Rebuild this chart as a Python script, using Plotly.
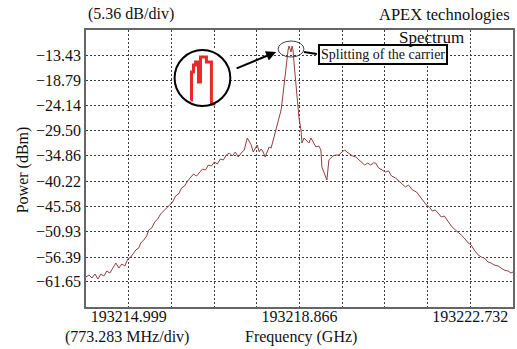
import plotly.graph_objects as go

# ---------------- data ----------------
freq_ghz = [
    193214.032, 193214.100, 193214.167, 193214.235, 193214.302, 193214.370, 193214.438, 193214.505,
    193214.573, 193214.640, 193214.708, 193214.776, 193214.843, 193214.911, 193214.978, 193215.046,
    193215.114, 193215.159, 193215.226, 193215.271, 193215.339, 193215.407, 193215.452, 193215.519,
    193215.587, 193215.655, 193215.722, 193215.790, 193215.857, 193215.925, 193215.993, 193216.060,
    193216.128, 193216.195, 193216.263, 193216.331, 193216.398, 193216.466, 193216.533, 193216.601,
    193216.669, 193216.736, 193216.804, 193216.871, 193216.939, 193217.007, 193217.074, 193217.142,
    193217.209, 193217.277, 193217.345, 193217.412, 193217.480, 193217.547, 193217.615, 193217.683,
    193217.728, 193217.773, 193217.818, 193217.863, 193217.908, 193217.953, 193217.998, 193218.043,
    193218.088, 193218.133, 193218.178, 193218.224, 193218.291, 193218.359, 193218.449, 193218.517,
    193218.562, 193218.607, 193218.629, 193218.652, 193218.674, 193218.697, 193218.719, 193218.742,
    193218.787, 193218.809, 193218.855, 193218.900, 193218.922, 193218.967, 193219.012, 193219.080,
    193219.125, 193219.170, 193219.238, 193219.305, 193219.350, 193219.373, 193219.418, 193219.463,
    193219.486, 193219.531, 193219.576, 193219.621, 193219.688, 193219.756, 193219.824, 193219.891,
    193219.936, 193220.004, 193220.071, 193220.139, 193220.207, 193220.274, 193220.342, 193220.409,
    193220.477, 193220.545, 193220.590, 193220.657, 193220.747, 193220.815, 193220.883, 193220.950,
    193221.040, 193221.108, 193221.198, 193221.266, 193221.333, 193221.424, 193221.514, 193221.581,
    193221.649, 193221.739, 193221.807, 193221.874, 193221.942, 193222.009, 193222.077, 193222.145,
    193222.235, 193222.302, 193222.370, 193222.460, 193222.528, 193222.595, 193222.685, 193222.753,
    193222.821, 193222.911, 193222.978, 193223.046, 193223.136, 193223.204, 193223.271, 193223.362,
    193223.429, 193223.497, 193223.587, 193223.654, 193223.700,
]
power_dbm = [
    -60.64, -60.22, -60.86, -60.01, -61.07, -60.01, -60.43, -59.37,
    -59.79, -58.73, -57.67, -58.73, -57.88, -58.30, -56.81, -56.39,
    -55.54, -54.90, -54.47, -53.41, -52.77, -51.92, -50.64, -50.22,
    -48.94, -48.30, -47.24, -46.60, -45.75, -45.32, -44.68, -43.40,
    -42.98, -41.70, -41.28, -40.21, -39.57, -38.72, -39.15, -38.30,
    -37.66, -37.87, -36.81, -37.02, -36.17, -36.59, -35.53, -35.74,
    -34.68, -34.25, -34.89, -34.04, -35.10, -34.25, -33.61, -31.06,
    -31.91, -32.55, -34.04, -33.19, -32.55, -34.04, -33.40, -34.04,
    -35.10, -34.04, -32.97, -33.19, -30.84, -27.87, -25.10, -19.78,
    -15.52, -12.33, -11.48, -12.11, -12.75, -11.48, -12.33, -15.09,
    -19.78, -23.61, -26.80, -29.36, -32.12, -31.06, -31.48, -32.12,
    -31.06, -31.91, -32.97, -32.76, -33.61, -37.23, -38.51, -39.36,
    -40.00, -35.74, -35.32, -34.89, -34.68, -34.68, -34.04, -33.61,
    -34.04, -34.46, -34.89, -35.10, -35.74, -36.17, -36.81, -36.38,
    -36.81, -36.38, -36.38, -37.44, -37.87, -38.30, -38.08, -39.15,
    -39.57, -40.21, -41.06, -41.49, -41.06, -42.13, -42.55, -43.40,
    -44.04, -45.32, -45.75, -46.60, -46.38, -47.02, -47.87, -47.66,
    -48.94, -49.79, -50.43, -51.07, -51.71, -52.34, -53.41, -53.83,
    -54.90, -55.96, -56.39, -56.60, -57.45, -57.67, -58.09, -58.30,
    -58.73, -59.16, -59.37, -59.79, -59.58,
]

# zoomed view of the carrier shown inside the circle (relative units)
inset_offset = [16, 17, 19, 21, 24, 26, 32, 37, 41]
inset_level = [6, 34, 41, 44, 24, 49, 44, 2, 2]

y_ticks = [-13.43, -18.79, -24.14, -29.50, -34.86, -40.22, -45.58, -50.93, -56.39, -61.65]
y_ticklabels = ["\u221213.43", "\u221218.79", "\u221224.14", "\u221229.50", "\u221234.86",
                "\u221240.22", "\u221245.58", "\u221250.93", "\u221256.39", "\u221261.65"]
x_ticklabels = ["193214.999", "193218.866", "193222.732"]

# ---------------- scales ----------------
x_div = 0.96675          # GHz between grid lines
x_start = 193214.032
y_div = 5.36
y_top = -8.07
y_range = [y_top - 11 * y_div, y_top]
x_range = [x_start, x_start + 10 * x_div]

x_grid = [x_start + i * x_div for i in range(1, 10)]
x_text = ["" for _ in x_grid]
x_text[0], x_text[4], x_text[8] = x_ticklabels

FONT = "Liberation Serif"
grid_col = "#3a3a3a"

fig = go.Figure()
fig.add_trace(go.Scatter(x=freq_ghz, y=power_dbm, mode="lines",
                         line=dict(color="#923e3e", width=1), showlegend=False))
fig.add_trace(go.Scatter(x=inset_offset, y=inset_level, mode="lines",
                         line=dict(color="#e8282c", width=3, shape="hv"),
                         xaxis="x2", yaxis="y2", showlegend=False))

fig.update_layout(
    width=517, height=349,
    margin=dict(l=86, r=2, t=30, b=42),
    paper_bgcolor="white", plot_bgcolor="white",
    font=dict(family=FONT, size=16, color="#111"),
    xaxis=dict(range=x_range, tickvals=x_grid, ticktext=x_text,
               showgrid=True, gridcolor=grid_col, gridwidth=1, griddash="2px,2px",
               showline=True, linecolor="#666", linewidth=1.5, mirror=True,
               ticks="", zeroline=False, tickfont=dict(size=16), ticklabelstandoff=-6),
    yaxis=dict(range=y_range, tickvals=y_ticks, ticktext=y_ticklabels,
               showgrid=True, gridcolor=grid_col, gridwidth=1, griddash="2px,2px",
               showline=True, linecolor="#666", linewidth=1.5, mirror=True,
               ticks="", zeroline=False, tickfont=dict(size=16)),
    xaxis2=dict(domain=[0.2075, 0.338], range=[0, 56], visible=False, anchor="y2"),
    yaxis2=dict(domain=[0.7256, 0.9278], range=[0, 56], visible=False, anchor="x2"),
)

# circle around the inset
fig.add_shape(type="circle", xref="paper", yref="paper",
              x0=0.2075, x1=0.338, y0=0.7256, y1=0.9278,
              line=dict(color="black", width=2), fillcolor="rgba(0,0,0,0)")
# ellipse around the carrier peak
fig.add_shape(type="circle", xref="x", yref="y",
              x0=193218.381, x1=193218.967, y0=-13.82, y1=-10.41,
              line=dict(color="#444", width=1))
# connector from ellipse to label box
fig.add_shape(type="line", xref="paper", yref="paper",
              x0=(305 - 86) / 429, x1=(318 - 86) / 429,
              y0=(307 - 52) / 277, y1=(307 - 54) / 277,
              line=dict(color="black", width=2))

fig.add_annotation(xref="paper", yref="paper", x=(277 - 86) / 429, y=(307 - 52) / 277,
                   ax=-41, ay=17, axref="pixel", ayref="pixel", text="",
                   showarrow=True, arrowhead=2, arrowsize=1, arrowwidth=2, arrowcolor="black")

fig.add_annotation(xref="paper", yref="paper", x=(384.5 - 86) / 429, y=(307 - 55) / 277,
                   text="Splitting of the carrier", showarrow=False,
                   xanchor="center", yanchor="middle",
                   font=dict(size=14, family=FONT, color="#111"),
                   bordercolor="black", borderwidth=2, borderpad=1, bgcolor="white")
fig.add_annotation(xref="paper", yref="paper", x=(468 - 86) / 429, y=(307 - 37) / 277,
                   text="Spectrum", showarrow=False, xanchor="right", yanchor="middle",
                   font=dict(size=17, family=FONT))
fig.add_annotation(xref="paper", yref="paper", x=(131 - 86) / 429, y=(307 - 14) / 277,
                   text="(5.36 dB/div)", showarrow=False, xanchor="center", yanchor="middle",
                   font=dict(size=16, family=FONT))
fig.add_annotation(xref="paper", yref="paper", x=(514 - 86) / 429, y=(307 - 14) / 277,
                   text="APEX technologies", showarrow=False, xanchor="right", yanchor="middle",
                   font=dict(size=16.5, family=FONT))
fig.add_annotation(xref="paper", yref="paper", x=(127 - 86) / 429, y=(307 - 337) / 277,
                   text="(773.283 MHz/div)", showarrow=False, xanchor="center", yanchor="middle",
                   font=dict(size=16, family=FONT))
fig.add_annotation(xref="paper", yref="paper", x=(302 - 86) / 429, y=(307 - 337) / 277,
                   text="Frequency (GHz)", showarrow=False, xanchor="center", yanchor="middle",
                   font=dict(size=16, family=FONT))
fig.add_annotation(xref="paper", yref="paper", x=(23 - 86) / 429, y=(307 - 170) / 277,
                   text="Power (dBm)", showarrow=False, textangle=-90,
                   xanchor="center", yanchor="middle", font=dict(size=16, family=FONT))

fig.write_html("out.html")
